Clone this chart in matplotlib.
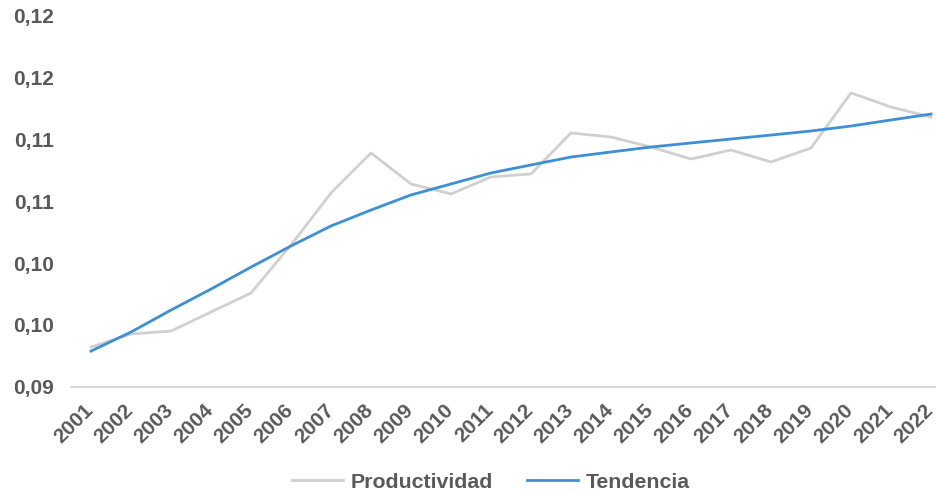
import matplotlib
matplotlib.use('Agg')
import matplotlib.pyplot as plt
import matplotlib.transforms as mtransforms

# data
years = [str(y) for y in range(2001, 2023)]
productividad = [0.09320, 0.09425, 0.09449, 0.09603, 0.09757, 0.10146, 0.10567,
                 0.10891, 0.10640, 0.10559, 0.10697, 0.10721, 0.11053, 0.11020,
                 0.10939, 0.10842, 0.10915, 0.10818, 0.10931, 0.11377, 0.11263,
                 0.11182]
tendencia = [0.09287, 0.09441, 0.09619, 0.09789, 0.09967, 0.10138, 0.10300,
             0.10429, 0.10551, 0.10640, 0.10729, 0.10794, 0.10858, 0.10899,
             0.10939, 0.10972, 0.11004, 0.11036, 0.11069, 0.11109, 0.11158,
             0.11206]
y_ticks = [0.09, 0.095, 0.10, 0.105, 0.11, 0.115, 0.12]
y_tick_labels = ['0,09', '0,10', '0,10', '0,11', '0,11', '0,12', '0,12']

txt = '#595959'
plt.rcParams['font.family'] = ['Liberation Sans', 'DejaVu Sans']
plt.rcParams['font.weight'] = 'bold'

W, H = 936, 493
fig = plt.figure(figsize=(W / 100, H / 100), dpi=100)
# axes: left edge at 71 px, each category 40 px wide (chart is cropped on the right)
left, right = 71, 71 + 22 * 40
bottom, top = 386.5, 16
ax = fig.add_axes([left / W, 1 - bottom / H, (right - left) / W, (bottom - top) / H])

x = list(range(len(years)))
ax.plot(x, productividad, color='#d0d0d0', lw=2.0, label='Productividad')
ax.plot(x, tendencia, color='#3d8fd8', lw=2.0, label='Tendencia')

ax.set_xlim(-0.5, len(years) - 0.5)
ax.set_ylim(0.09, 0.12)
ax.set_yticks(y_ticks)
ax.set_yticklabels(y_tick_labels)
ax.set_xticks(x)
ax.set_xticklabels(years, rotation=45, ha='right', rotation_mode='anchor')

for s in ['top', 'right', 'left']:
    ax.spines[s].set_visible(False)
ax.spines['bottom'].set_color('#d9d9d9')
ax.spines['bottom'].set_linewidth(1.5)
ax.tick_params(axis='both', length=0, labelsize=15, labelcolor=txt)
ax.tick_params(axis='y', pad=12)
ax.tick_params(axis='x', pad=10)

# nudge the year labels a little to the left, as in the reference
shift = mtransforms.ScaledTranslation(-7 / 100, 0, fig.dpi_scale_trans)
for lab in ax.get_xticklabels():
    lab.set_transform(lab.get_transform() + shift)

fig.legend(loc='center', bbox_to_anchor=(491 / W, 1 - 482 / H), ncol=2, frameon=False,
           fontsize=15.3, labelcolor=txt, handlelength=2.4, columnspacing=1.6,
           handletextpad=0.35)

fig.savefig('out.png', dpi=100)
